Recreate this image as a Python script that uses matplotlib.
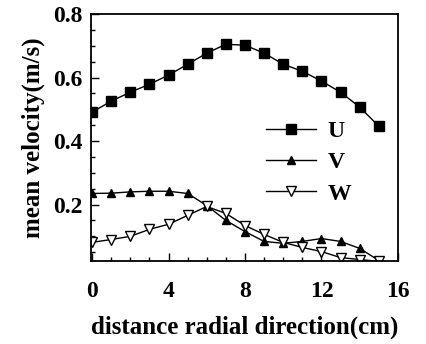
import matplotlib
matplotlib.use('Agg')
import matplotlib.pyplot as plt
from matplotlib.ticker import MultipleLocator

# radial position (cm)
x = [0, 1, 2, 3, 4, 5, 6, 7, 8, 9, 10, 11, 12, 13, 14, 15]

# mean velocity components (m/s)
u = [0.491, 0.526, 0.554, 0.579, 0.608, 0.642, 0.677, 0.705,
     0.702, 0.677, 0.642, 0.620, 0.589, 0.554, 0.507, 0.447]
v = [0.235, 0.236, 0.240, 0.242, 0.242, 0.235, 0.197, 0.150,
     0.115, 0.084, 0.078, 0.084, 0.093, 0.084, 0.062, 0.024]
w = [0.081, 0.090, 0.100, 0.122, 0.138, 0.166, 0.194, 0.172,
     0.134, 0.106, 0.081, 0.065, 0.052, 0.033, 0.027, 0.021]

xticks = [0, 4, 8, 12, 16]
yticks = [0.2, 0.4, 0.6, 0.8]

plt.rcParams['font.family'] = ['Liberation Serif', 'DejaVu Serif']
plt.rcParams['font.weight'] = 'bold'

fig = plt.figure(figsize=(4.26, 3.44), dpi=100)
ax = fig.add_axes([0.214, 0.241, 0.72, 0.718])

ax.plot(x, u, '-s', color='black', lw=1.0, ms=6.5, mfc='black', label='U')
ax.plot(x, v, '-^', color='black', lw=1.0, ms=5.5, mfc='black', label='V')
ax.plot(x, w, '-v', color='black', lw=1.0, ms=6.5, mfc='white', label='W')

ax.set_xlim(-0.05, 15.95)
ax.set_ylim(0.022, 0.8)
ax.set_xticks(xticks)
ax.set_yticks(yticks)
ax.set_yticklabels([f'{t:.1f}' for t in yticks])
ax.xaxis.set_minor_locator(MultipleLocator(1))
ax.yaxis.set_minor_locator(MultipleLocator(0.05))
ax.tick_params(which='both', direction='in', top=False, right=False,
               labelsize=17, width=1.0)
ax.tick_params(which='major', length=6)
ax.tick_params(axis='x', which='major', pad=14)
ax.tick_params(axis='y', which='major', pad=6)
ax.tick_params(which='minor', length=3)
for s in ax.spines.values():
    s.set_linewidth(1.3)

ax.set_xlabel('distance radial direction(cm)', fontsize=18,
              fontweight='bold', labelpad=10)
ax.set_ylabel('mean velocity(m/s)', fontsize=18, fontweight='bold',
              labelpad=6)

ax.legend(loc='upper left', bbox_to_anchor=(0.57, 0.57), frameon=False,
          fontsize=17, handlelength=2.1, handletextpad=0.5,
          labelspacing=0.42, borderaxespad=0, borderpad=0)

fig.savefig('out.png', dpi=100)
